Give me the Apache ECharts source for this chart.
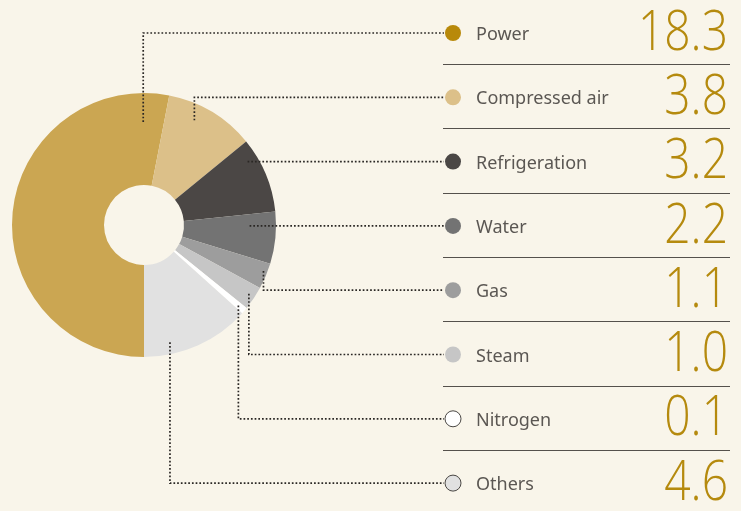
<!DOCTYPE html>
<html>
<head>
<meta charset="utf-8">
<script src="https://cdn.jsdelivr.net/npm/echarts@6/dist/echarts.min.js"></script>
<style>
  html, body { margin: 0; padding: 0; background: #F9F5EA; }
  #chart { width: 741px; height: 511px; }
</style>
</head>
<body>
<div id="chart"></div>
<script>
// Energy consumption by utility type
const categories = ['Power', 'Compressed air', 'Refrigeration', 'Water', 'Gas', 'Steam', 'Nitrogen', 'Others'];
const values = [18.3, 3.8, 3.2, 2.2, 1.1, 1.0, 0.1, 4.6];

const sliceColors = ['#CBA652', '#DCC089', '#4B4745', '#737373', '#9D9D9D', '#C6C6C6', '#FFFFFF', '#E1E1E1'];
const dotColors   = ['#B8890A', '#DCC089', '#4B4745', '#737373', '#9D9D9D', '#C6C6C6', '#FFFFFF', '#E1E1E1'];
const dotOutlined = [false, false, false, false, false, false, true, true];

// Where each leader line leaves its slice: 'v' = vertical then horizontal,
// 'h' = straight across at the row height. f = position along the slice arc,
// rf = radius as a share of the outer radius.
const leaderStyle = [
  { mode: 'v', f: 0.94, rf: 0.78 },
  { mode: 'v', f: 0.37, rf: 0.88 },
  { mode: 'h', rf: 0.92 },
  { mode: 'h', rf: 0.80 },
  { mode: 'v', f: 0.35, rf: 0.97 },
  { mode: 'v', f: 0.45, rf: 0.95 },
  { mode: 'v', f: 0.5,  rf: 0.94 },
  { mode: 'v', f: 0.74, rf: 0.91 }
];

const BG = '#F9F5EA';
const GOLD = '#B58A0E';
const TEXT = '#5B5753';
const ROW_TOP = 33, ROW_STEP = 64.3;
const DOT_X = 453, DOT_R = 8, LABEL_X = 476, VALUE_RIGHT = 728;
const RULE_LEFT = 443, RULE_RIGHT = 730;

const chart = echarts.init(document.getElementById('chart'), null, { renderer: 'canvas' });

chart.setOption({
  backgroundColor: BG,
  animation: false,
  series: [{
    type: 'pie',
    center: [144, 225],
    radius: [40, 132],
    startAngle: 270,
    clockwise: true,
    minAngle: 3,
    avoidLabelOverlap: false,
    label: { show: false },
    labelLine: { show: false },
    emphasis: { scale: false, disabled: true },
    itemStyle: { borderWidth: 0 },
    data: categories.map((name, i) => ({
      name, value: values[i], itemStyle: { color: sliceColors[i] }
    }))
  }]
});

// Build the legend rows, rules and leader lines from the pie's own layout
const seriesData = chart.getModel().getSeriesByIndex(0).getData();
const elements = [];
const dotted = { stroke: '#2A2724', lineWidth: 1.7, lineDash: [1.7, 2.0], fill: null };

categories.forEach((name, i) => {
  const rowY = ROW_TOP + i * ROW_STEP;
  const lay = seriesData.getItemLayout(i);
  const cfg = leaderStyle[i];
  const R = lay.r * cfg.rf;
  let pts;
  if (cfg.mode === 'h') {
    const dy = rowY - lay.cy;
    const x = lay.cx + Math.sqrt(R * R - dy * dy);
    pts = [[x, rowY], [DOT_X - DOT_R - 1, rowY]];
  } else {
    const a = lay.startAngle + cfg.f * (lay.endAngle - lay.startAngle);
    const ax = lay.cx + R * Math.cos(a);
    const ay = lay.cy + R * Math.sin(a);
    pts = [[ax, ay], [ax, rowY], [DOT_X - DOT_R - 1, rowY]];
  }
  elements.push({ type: 'polyline', silent: true, z: 10, shape: { points: pts }, style: dotted });

  elements.push({
    type: 'circle', silent: true, z: 11,
    shape: { cx: DOT_X, cy: rowY, r: DOT_R },
    style: { fill: dotColors[i], stroke: dotOutlined[i] ? '#4A4744' : null, lineWidth: 1 }
  });

  elements.push({
    type: 'text', silent: true, z: 11,
    x: LABEL_X, y: rowY + 2,
    style: {
      text: name, fill: TEXT, font: '400 18px "Noto Sans", sans-serif',
      textAlign: 'left', textVerticalAlign: 'middle'
    }
  });

  // Large figures: light face, slightly condensed
  elements.push({
    type: 'text', silent: true, z: 11,
    x: VALUE_RIGHT, y: rowY + 1,
    scaleX: 0.84,
    style: {
      text: values[i].toFixed(1), fill: GOLD, font: '300 55px "Open Sans", sans-serif',
      textAlign: 'right', textVerticalAlign: 'middle'
    }
  });

  if (i < categories.length - 1) {
    const ry = Math.round(rowY + 31) + 0.5;
    elements.push({
      type: 'line', silent: true, z: 9,
      shape: { x1: RULE_LEFT, y1: ry, x2: RULE_RIGHT, y2: ry },
      style: { stroke: '#55514C', lineWidth: 1 }
    });
  }
});

chart.setOption({ graphic: { elements } });
</script>
</body>
</html>
